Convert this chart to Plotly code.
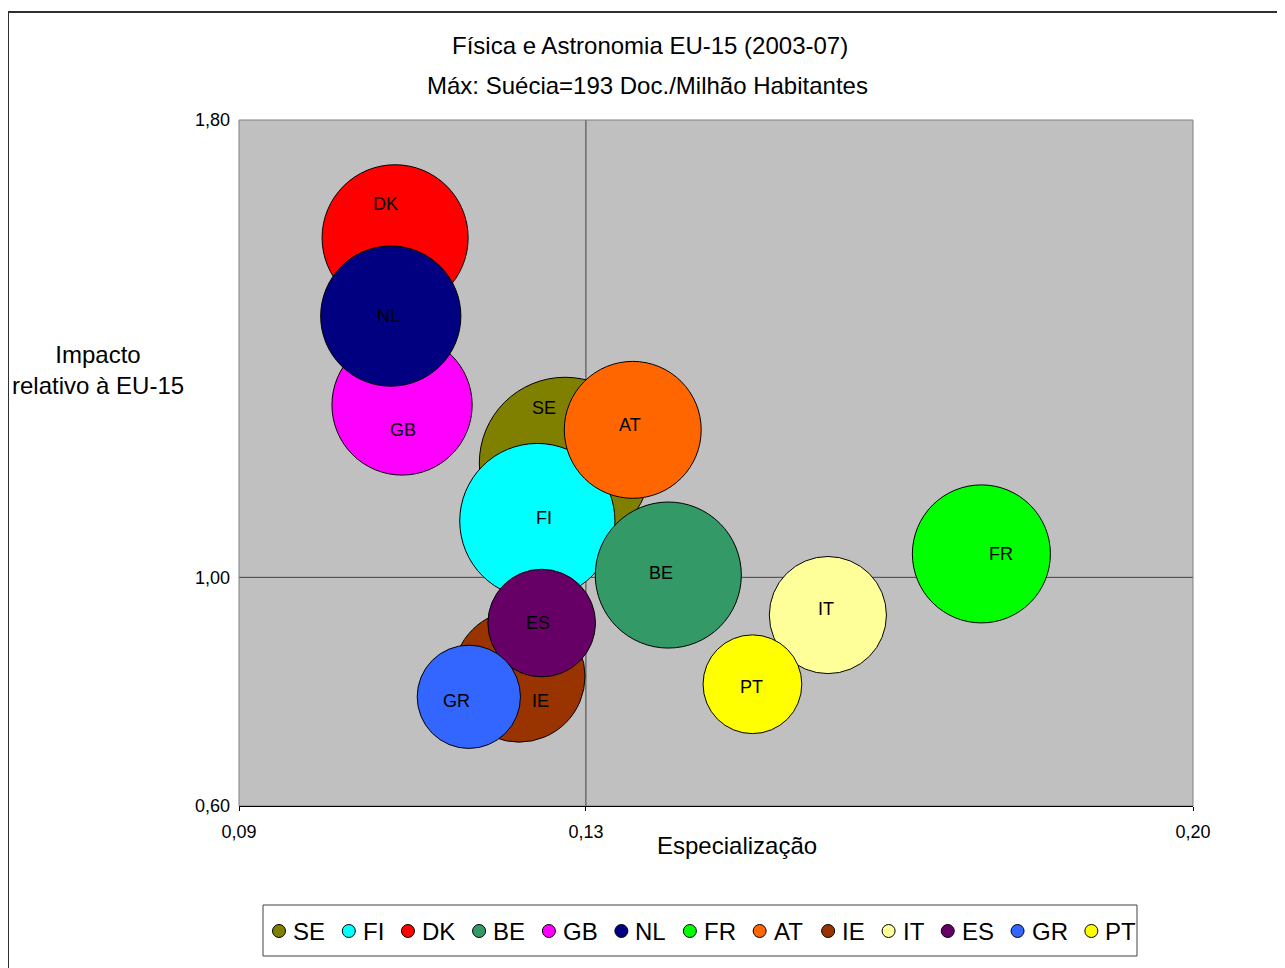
import plotly.graph_objects as go

# ---------------- data ----------------
countries = ["SE", "FI", "DK", "BE", "GB", "NL", "FR", "AT", "IE", "IT", "ES", "GR", "PT"]
especializacao = [0.1276, 0.1244, 0.1080, 0.1395, 0.1088, 0.1075, 0.1756,
                  0.1354, 0.1223, 0.1579, 0.1249, 0.1165, 0.1492]
impacto = [1.200, 1.0985, 1.594, 1.004, 1.3015, 1.457, 1.041,
           1.258, 0.827, 0.934, 0.920, 0.791, 0.813]
doc_por_milhao = [193, 158, 140, 140, 129, 129, 125, 123, 114, 90, 76, 70, 64]
x_ticks = [0.09, 0.13, 0.20]
y_ticks = [0.60, 1.00, 1.80]
x_cross = 0.13
y_cross = 1.00

# ---------------- styles ----------------
colors = ["#808000", "#00FFFF", "#FF0000", "#339966", "#FF00FF", "#000080", "#00FF00",
          "#FF6600", "#993300", "#FFFF99", "#660066", "#3366FF", "#FFFF00"]
# label pixel offsets (dx, dy up) relative to each bubble centre
label_shift = {"SE": (-21, 55), "FI": (7, 3), "DK": (-10, 34), "BE": (-7, 2), "GB": (1, -25),
               "NL": (-2, 0), "FR": (20, 0), "AT": (-3, 5), "IE": (21, -25), "IT": (-2, 6),
               "ES": (-4, 0), "GR": (-12, -4), "PT": (-1, -3)}

FONT = "Liberation Sans, Arial, sans-serif"
OFF = 8  # page body margin
W, H = 1285 - OFF, 968 - OFF
# plot area in page pixels
PL, PR, PT_, PB = 239, 1193, 120, 806
L, R, T, B = PL - OFF, PR - OFF, PT_ - OFF, PB - OFF
PW, PH = R - L, B - T


def px2x(px):
    """page pixel x -> paper x"""
    return (px - PL) / PW


def py2y(py):
    """page pixel y -> paper y"""
    return (PB - py) / PH


max_diam = 0.25 * min(PW, PH)
sizeref = 2.0 * max(doc_por_milhao) / (max_diam ** 2)

fig = go.Figure()
for name, xv, yv, sv, col in zip(countries, especializacao, impacto, doc_por_milhao, colors):
    fig.add_trace(go.Scatter(
        x=[xv], y=[yv], mode="markers", name=name,
        marker=dict(size=[sv], sizemode="area", sizeref=sizeref, color=col,
                    opacity=1, line=dict(color="black", width=1)),
        showlegend=False, cliponaxis=False,
    ))

annotations = []
shapes = []

# bubble labels
for name, xv, yv in zip(countries, especializacao, impacto):
    dx, dy = label_shift[name]
    annotations.append(dict(x=xv, y=yv, xref="x", yref="y", text=name, showarrow=False,
                            xshift=dx, yshift=dy, font=dict(size=18, color="black", family=FONT)))

# titles
annotations.append(dict(x=px2x(650), y=py2y(45), xref="paper", yref="paper",
                        text="Física e Astronomia EU-15 (2003-07)",
                        showarrow=False, xanchor="center", yanchor="middle",
                        font=dict(size=24, color="black", family=FONT)))
annotations.append(dict(x=px2x(647), y=py2y(85), xref="paper", yref="paper",
                        text="Máx: Suécia=193 Doc./Milhão Habitantes",
                        showarrow=False, xanchor="center", yanchor="middle",
                        font=dict(size=24, color="black", family=FONT)))
# axis titles
annotations.append(dict(x=px2x(98), y=py2y(370), xref="paper", yref="paper",
                        text="Impacto<br>relativo à EU-15", showarrow=False,
                        xanchor="center", yanchor="middle", align="center",
                        font=dict(size=24, color="black", family=FONT)))
annotations.append(dict(x=px2x(737), y=py2y(845), xref="paper", yref="paper",
                        text="Especialização", showarrow=False,
                        xanchor="center", yanchor="middle",
                        font=dict(size=24, color="black", family=FONT)))

# crossing lines (under bubbles)
shapes.append(dict(type="line", xref="x", yref="paper", x0=x_cross, x1=x_cross, y0=0, y1=1,
                   line=dict(color="#404040", width=1), layer="below"))
shapes.append(dict(type="line", xref="paper", yref="y", x0=0, x1=1, y0=y_cross, y1=y_cross,
                   line=dict(color="#404040", width=1), layer="below"))
# plot area border (top / right grey)
shapes.append(dict(type="rect", xref="paper", yref="paper", x0=0, x1=1, y0=0, y1=1,
                   line=dict(color="#808080", width=1), layer="below"))
# outer chart border
shapes.append(dict(type="rect", xref="paper", yref="paper", x0=px2x(8), x1=px2x(1300),
                   y0=py2y(990), y1=py2y(12), line=dict(color="#303030", width=2), layer="below"))

# custom legend box
shapes.append(dict(type="rect", xref="paper", yref="paper", x0=px2x(263), x1=px2x(1137),
                   y0=py2y(956), y1=py2y(905), line=dict(color="#404040", width=1),
                   fillcolor="white", layer="above"))
char_w = {"S": .667, "E": .667, "F": .611, "I": .278, "D": .722, "K": .667, "B": .667,
          "G": .778, "N": .722, "L": .556, "R": .722, "A": .667, "T": .611, "P": .667}
leg_font = 24
lx = 279
ly = 931
for name, col in zip(countries, colors):
    shapes.append(dict(type="circle", xref="paper", yref="paper", xsizemode="pixel", ysizemode="pixel",
                       xanchor=px2x(lx), yanchor=py2y(ly), x0=-6.5, x1=6.5, y0=-6.5, y1=6.5,
                       fillcolor=col, line=dict(color="black", width=1), layer="above"))
    annotations.append(dict(x=px2x(lx + 12), y=py2y(ly), xref="paper", yref="paper", text=name,
                            showarrow=False, xanchor="left", yanchor="middle",
                            font=dict(size=leg_font, color="black", family=FONT)))
    lx += 37.8 + sum(char_w[c] for c in name) * 24

fig.update_layout(
    width=W, height=H,
    margin=dict(l=L, r=W - R, t=T, b=H - B, pad=0),
    paper_bgcolor="white", plot_bgcolor="#C0C0C0",
    separators=",.",
    showlegend=False,
    font=dict(family=FONT, color="black"),
    xaxis=dict(range=[x_ticks[0], x_ticks[-1]], tickvals=x_ticks, tickformat=".2f",
               showgrid=False, zeroline=False, showline=True, linecolor="black", linewidth=1,
               ticks="outside", ticklen=4, tickcolor="black",
               tickfont=dict(size=18, color="black", family=FONT), ticklabelstandoff=5),
    yaxis=dict(range=[y_ticks[0], y_ticks[-1]], tickvals=y_ticks, tickformat=".2f",
               showgrid=False, zeroline=False, showline=False,
               ticks="", tickfont=dict(size=18, color="black", family=FONT), ticklabelstandoff=8),
    annotations=annotations,
    shapes=shapes,
)

fig.write_html("out.html")
